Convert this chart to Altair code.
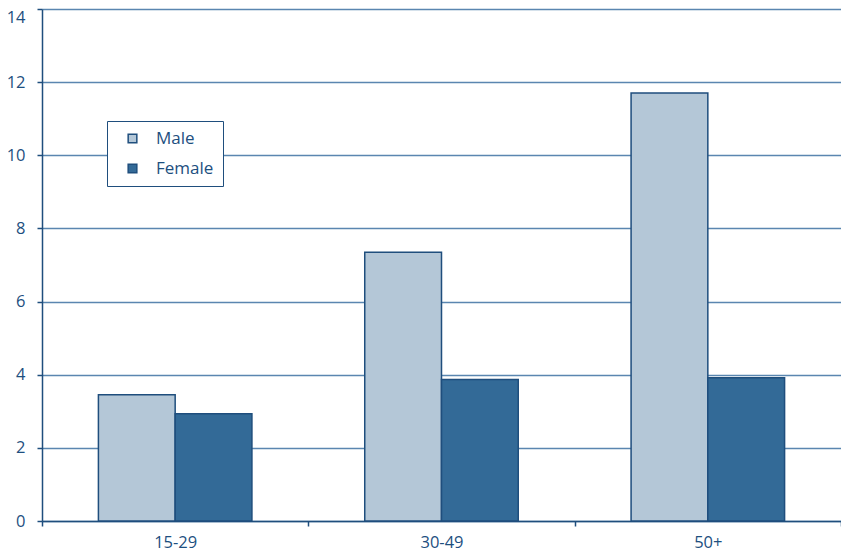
import altair as alt
import pandas as pd

groups = ["15-29", "30-49", "50+"]
sexes = ["Male", "Female"]
male = [3.45, 7.35, 11.7]
female = [2.93, 3.87, 3.92]

rows = []
for g, m, f in zip(groups, male, female):
    rows.append({"group": g, "sex": "Male", "value": m})
    rows.append({"group": g, "sex": "Female", "value": f})
df = pd.DataFrame(rows)

blue = "#1f4e7d"
text_col = "#1d4f80"
font = "Open Sans"

chart = alt.Chart(df).mark_bar(stroke=blue, strokeWidth=1.5).encode(
    x=alt.X("group:N", sort=groups, title=None,
            scale=alt.Scale(paddingInner=0, paddingOuter=0),
            axis=alt.Axis(labelAngle=0, tickBand="extent", grid=False,
                          domainColor=blue, domainWidth=1.5, tickColor=blue,
                          tickWidth=1.5, tickSize=5, labelPadding=8,
                          labelFontSize=16.5, labelColor=text_col, labelFont=font)),
    xOffset=alt.XOffset("sex:N", sort=sexes,
                        scale=alt.Scale(paddingInner=0, paddingOuter=0.735)),
    y=alt.Y("value:Q", title=None,
            scale=alt.Scale(domain=[0, 14], nice=False),
            axis=alt.Axis(values=[0, 2, 4, 6, 8, 10, 12, 14], grid=True,
                          gridColor="#5a86b0", gridWidth=1.3,
                          domainColor=blue, domainWidth=1.5, tickColor=blue,
                          tickWidth=1.5, tickSize=5, labelPadding=12,
                          labelBaseline={"condition": {"test": "datum.value == 14", "value": "top"},
                                         "value": "middle"},
                          labelFontSize=16.5, labelColor=text_col, labelFont=font)),
    color=alt.Color("sex:N", sort=sexes,
                    scale=alt.Scale(domain=sexes, range=["#b4c7d7", "#336a97"]),
                    legend=alt.Legend(title=None, orient="none", legendX=65, legendY=112,
                                      fillColor="white", strokeColor=blue,
                                      padding=9, rowPadding=12, symbolType="square",
                                      symbolSize=75, symbolStrokeColor=blue,
                                      symbolStrokeWidth=1.5, symbolOffset=8,
                                      labelOffset=15, labelFontSize=17,
                                      labelExpr="datum.label + '\u00a0\u00a0\u00a0\u00a0\u00a0\u00a0'",
                                      labelColor=text_col, labelFont=font)),
).properties(
    width=799, height=512,
    autosize=alt.AutoSizeParams(type="none"),
    padding={"left": 34, "top": 1, "right": 0, "bottom": 30},
).configure_view(stroke=None)

chart.save("out.html", embed_options={"renderer": "svg", "actions": False})
